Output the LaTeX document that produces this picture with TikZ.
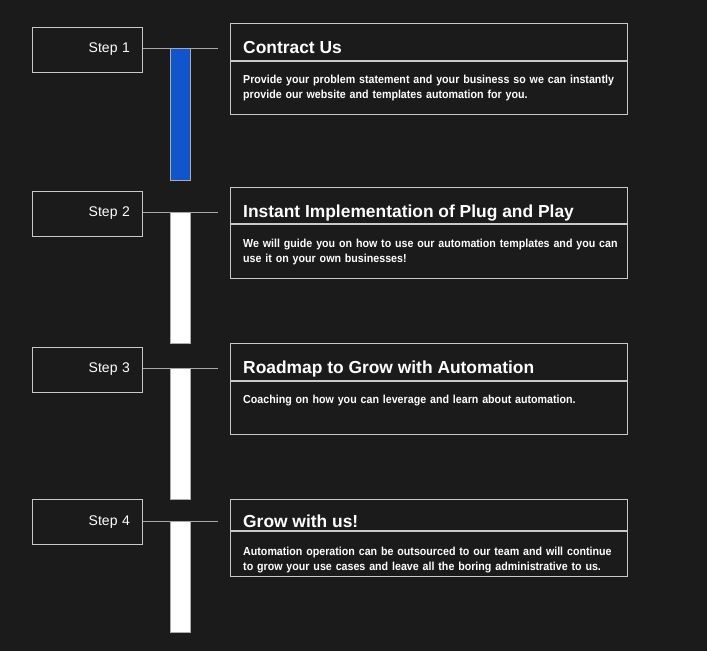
\documentclass[tikz,border=0pt]{standalone}
\usepackage{fontspec}
\setmainfont{Liberation Sans}
\newfontfamily\bodyfont{Liberation Sans Bold}[FakeStretch=0.92]
\definecolor{bgdark}{HTML}{1B1B1B}
\definecolor{edgegray}{HTML}{C8C8C8}
\definecolor{linegray}{HTML}{A8A8A8}
\definecolor{barblue}{HTML}{1155CC}
\tikzset{
  stepbox/.style={draw=edgegray, line width=1pt, text=white, minimum width=110pt,
    minimum height=45pt, inner xsep=12pt, text width=86pt, align=right,
    font=\fontsize{14}{16}\selectfont},
  headbox/.style={draw=edgegray, line width=1pt, anchor=north west, minimum width=397pt},
  headtext/.style={anchor=base west, text=white, inner sep=0pt, font=\fontsize{17.4}{20}\selectfont\bfseries},
  bodytext/.style={anchor=base west, text=white, inner sep=0pt, text width=400pt, align=left,
    font=\bodyfont\fontsize{11.6}{15.5}\selectfont},
  stepline/.style={draw=linegray, line width=1pt},
  bar/.style={draw=edgegray!60!gray, line width=0.8pt}
}
\begin{document}
\begin{tikzpicture}[x=1pt, y=-1pt]
  \fill[bgdark] (0,0) rectangle (707,651);
  \useasboundingbox (0,0) rectangle (707,651);

  % progress bars
  \filldraw[bar, fill=barblue] (170,48) rectangle (190,180);
  \filldraw[bar, fill=white] (170,212) rectangle (190,343);
  \filldraw[bar, fill=white] (170,368) rectangle (190,499);
  \filldraw[bar, fill=white] (170,521) rectangle (190,632);

  % step labels
  \node[stepbox] (s1) at (87,49.5) {Step 1};
  \node[stepbox] (s2) at (87,213.5) {Step 2};
  \node[stepbox] (s3) at (87,369.5) {Step 3};
  \node[stepbox] (s4) at (87,522) {Step 4};

  \coordinate (e1) at (218,48.5);
  \coordinate (e2) at (218,212.5);
  \coordinate (e3) at (218,368.5);
  \coordinate (e4) at (218,521.5);
  \draw[stepline] (s1.east |- e1) -- (e1);
  \draw[stepline] (s2.east |- e2) -- (e2);
  \draw[stepline] (s3.east |- e3) -- (e3);
  \draw[stepline] (s4.east |- e4) -- (e4);

  % step 1
  \node[headbox, minimum height=37pt] (h1) at (230,23) {};
  \node[headbox, minimum height=53pt] (b1) at (h1.south west) {};
  \node[headtext] (t1) at (243,53) {Contract Us};
  \node[bodytext] (d1) at (243,83) {Provide your problem statement and your business so we can instantly\\
    provide our website and templates automation for you.};

  % step 2
  \node[headbox, minimum height=36pt] (h2) at (230,187) {};
  \node[headbox, minimum height=54pt] (b2) at (h2.south west) {};
  \node[headtext] (t2) at (243,217) {Instant Implementation of Plug and Play};
  \node[bodytext] (d2) at (243,247) {We will guide you on how to use our automation templates and you can\\
    use it on your own businesses!};

  % step 3
  \node[headbox, minimum height=37pt] (h3) at (230,343) {};
  \node[headbox, minimum height=53pt] (b3) at (h3.south west) {};
  \node[headtext] (t3) at (243,373) {Roadmap to Grow with Automation};
  \node[bodytext] (d3) at (243,403) {Coaching on how you can leverage and learn about automation.};

  % step 4
  \node[headbox, minimum height=31pt] (h4) at (230,499) {};
  \node[headbox, minimum height=45pt] (b4) at (h4.south west) {};
  \node[headtext] (t4) at (243,527) {Grow with us!};
  \node[bodytext] (d4) at (243,555) {Automation operation can be outsourced to our team and will continue\\
    to grow your use cases and leave all the boring administrative to us.};
\end{tikzpicture}
\end{document}
